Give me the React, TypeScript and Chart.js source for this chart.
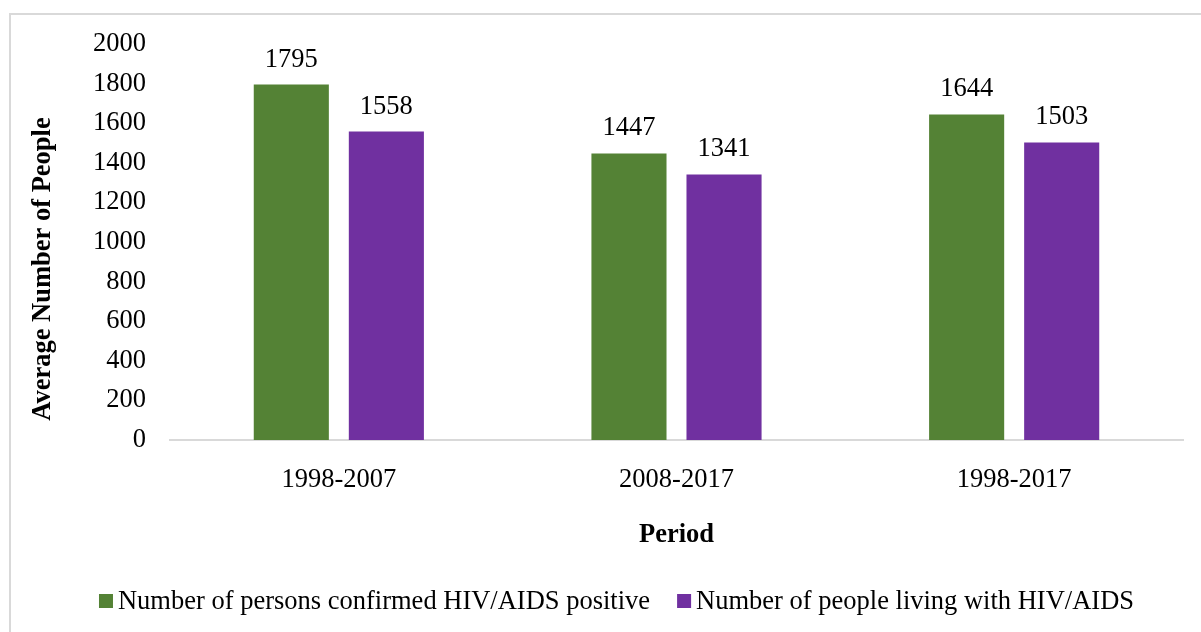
import React, { useEffect, useRef } from "react";
import { Chart, registerables } from "chart.js";

Chart.register(...registerables);

const periods = ["1998-2007", "2008-2017", "1998-2017"];
const confirmedPositive = [1795, 1447, 1644];
const livingWithHiv = [1558, 1341, 1503];
const seriesNames = [
  "Number of persons confirmed HIV/AIDS positive",
  "Number of people living with HIV/AIDS",
];
const seriesColors = ["#548235", "#7030A0"];
const yTitle = "Average Number of People";
const xTitle = "Period";

const FONT_FAMILY = "'Liberation Serif', 'Times New Roman', serif";
const FONT_SIZE = 26.5;
const W = 1201;
const H = 632;

// Value labels, axis titles and the legend row drawn on the canvas
const annotate = {
  id: "annotate",
  afterDatasetsDraw(chart: any) {
    const { ctx, chartArea } = chart;
    ctx.save();
    ctx.fillStyle = "#000";

    // values above each bar
    ctx.font = `${FONT_SIZE}px ${FONT_FAMILY}`;
    ctx.textAlign = "center";
    ctx.textBaseline = "alphabetic";
    chart.data.datasets.forEach((ds: any, i: number) => {
      const meta = chart.getDatasetMeta(i);
      meta.data.forEach((el: any, j: number) => {
        ctx.fillText(String(ds.data[j]), el.x, el.y - 18);
      });
    });

    // x axis title
    ctx.font = `bold ${FONT_SIZE}px ${FONT_FAMILY}`;
    ctx.fillText(xTitle, (chartArea.left + chartArea.right) / 2, 542);

    // y axis title, rotated
    ctx.save();
    ctx.translate(50, 269);
    ctx.rotate(-Math.PI / 2);
    ctx.fillText(yTitle, 0, 0);
    ctx.restore();

    // legend
    ctx.font = `${FONT_SIZE}px ${FONT_FAMILY}`;
    ctx.textAlign = "left";
    const box = 14;
    const boxGap = 5;
    const itemGap = 27;
    const widths = seriesNames.map((n) => ctx.measureText(n).width);
    const total =
      widths.reduce((a, b) => a + b, 0) +
      seriesNames.length * (box + boxGap) +
      itemGap * (seriesNames.length - 1);
    let x = 616.5 - total / 2;
    const baseline = 609;
    seriesNames.forEach((name, i) => {
      ctx.fillStyle = seriesColors[i];
      ctx.fillRect(x, 594, box, box);
      ctx.fillStyle = "#000";
      ctx.fillText(name, x + box + boxGap, baseline);
      x += box + boxGap + widths[i] + itemGap;
    });

    ctx.restore();
  },
};

export default function App() {
  const canvasRef = useRef<HTMLCanvasElement | null>(null);

  useEffect(() => {
    if (!canvasRef.current) return;
    const chart = new Chart(canvasRef.current, {
      type: "bar",
      data: {
        labels: periods,
        datasets: [
          {
            label: seriesNames[0],
            data: confirmedPositive,
            backgroundColor: seriesColors[0],
            categoryPercentage: 0.563,
            barPercentage: 0.79,
          },
          {
            label: seriesNames[1],
            data: livingWithHiv,
            backgroundColor: seriesColors[1],
            categoryPercentage: 0.563,
            barPercentage: 0.79,
          },
        ],
      },
      options: {
        animation: false,
        responsive: false,
        devicePixelRatio: 1,
        layout: { padding: { left: 0, right: 18, top: 44, bottom: 0 } },
        plugins: {
          legend: { display: false },
          tooltip: { enabled: false },
        },
        scales: {
          x: {
            grid: { display: false, drawTicks: false },
            border: { display: true, color: "#d9d9d9", width: 2 },
            ticks: {
              color: "#000",
              padding: 24,
              font: { family: FONT_FAMILY, size: FONT_SIZE },
            },
            afterFit: (scale: any) => {
              scale.height = 192;
            },
          },
          y: {
            min: 0,
            max: 2000,
            grid: { display: false, drawTicks: false },
            border: { display: false },
            ticks: {
              stepSize: 200,
              color: "#000",
              padding: 24,
              font: { family: FONT_FAMILY, size: FONT_SIZE },
              callback: (value: any) => String(value),
            },
            afterFit: (scale: any) => {
              scale.width = 170;
            },
          },
        },
      },
      plugins: [annotate],
    });
    return () => chart.destroy();
  }, []);

  return (
    <>
      <div
        style={{
          position: "absolute",
          left: 9,
          top: 13,
          width: W - 9,
          height: H - 13,
          boxSizing: "border-box",
          borderTop: "2px solid #d9d9d9",
          borderLeft: "2px solid #d9d9d9",
        }}
      />
      <canvas
        ref={canvasRef}
        width={W}
        height={H}
        style={{ position: "absolute", left: 0, top: 0, width: W, height: H }}
      />
    </>
  );
}
